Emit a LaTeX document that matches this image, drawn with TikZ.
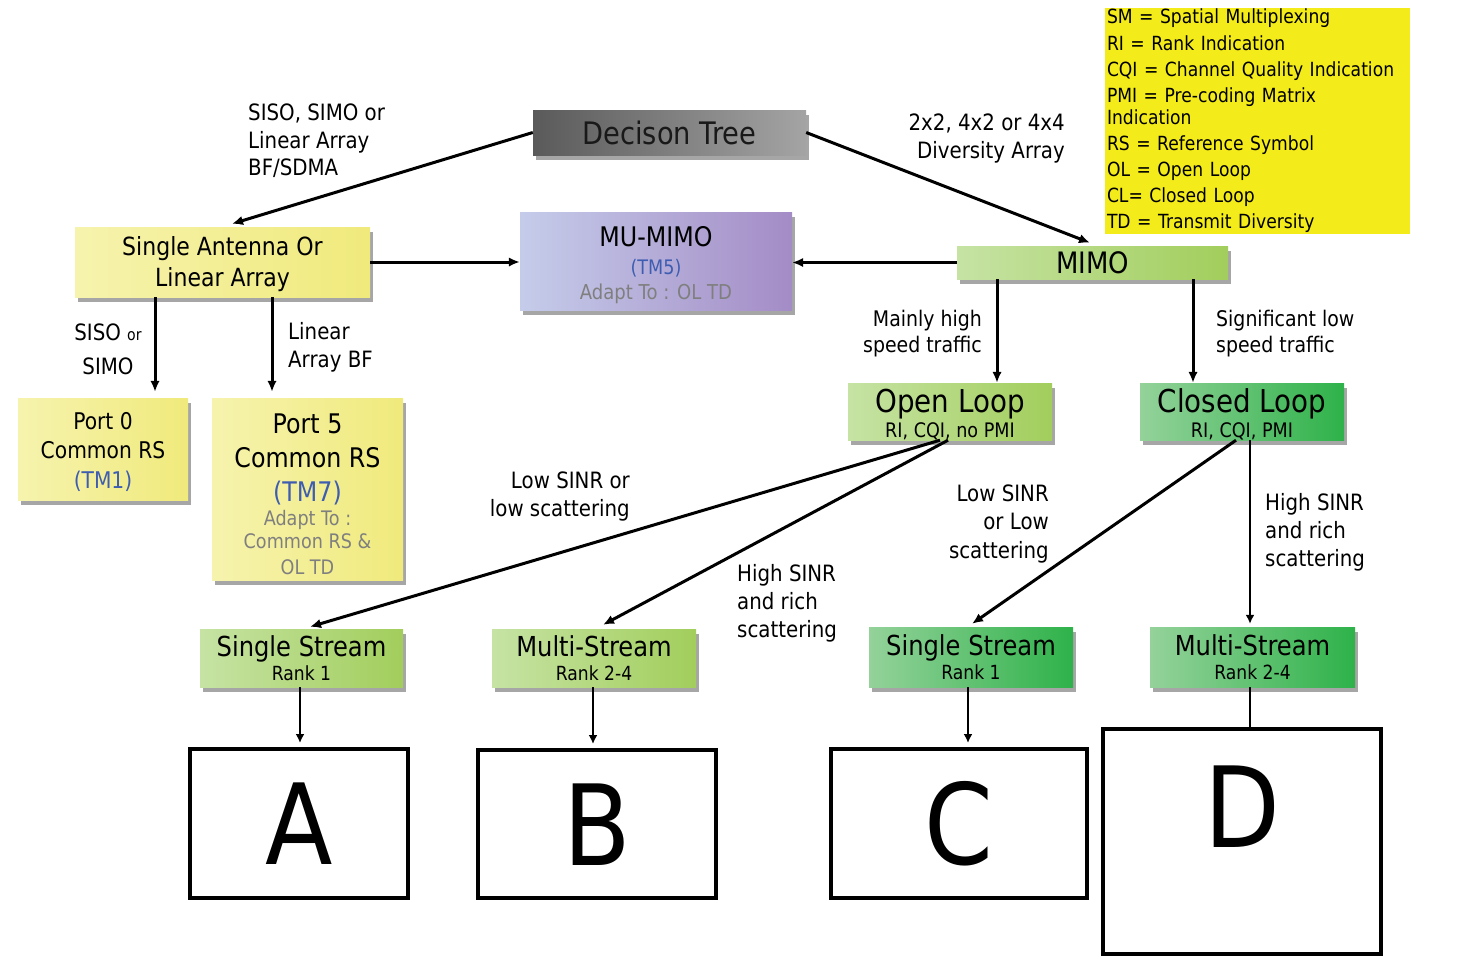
\documentclass[tikz,border=0pt]{standalone}
\usepackage{fontspec}
\setmainfont{DejaVu Sans}[FakeStretch=0.88]
\usetikzlibrary{shadows,arrows.meta}
\newcommand{\fsz}[2]{\fontsize{#1}{#2}\selectfont\lineskiplimit=-100pt\relax}
\definecolor{yelA}{HTML}{F6F3AE}
\definecolor{yelB}{HTML}{F0EA7C}
\definecolor{dtA}{HTML}{5A5A5A}
\definecolor{dtB}{HTML}{A4A4A4}
\definecolor{muA}{HTML}{C5CCEA}
\definecolor{muB}{HTML}{A48CC6}
\definecolor{lgA}{HTML}{C6E3A4}
\definecolor{lgB}{HTML}{A2CE5C}
\definecolor{dgA}{HTML}{94D29A}
\definecolor{dgB}{HTML}{2EB24A}
\definecolor{legY}{HTML}{F4EC1A}
\definecolor{tblue}{HTML}{3E5DB0}
\definecolor{tgray}{HTML}{7F7F7F}
\tikzset{
  shd/.style={drop shadow={shadow xshift=3pt,shadow yshift=-5pt,opacity=0.35,fill=black}},
  bx/.style={shd,inner sep=0pt,align=center,text=black},
  ybx/.style={bx,left color=yelA,right color=yelB},
  lgbx/.style={bx,left color=lgA,right color=lgB},
  dgbx/.style={bx,left color=dgA,right color=dgB},
  arr/.style={line width=3pt,-{Latex[length=11pt,width=9.5pt]}},
  tarr/.style={line width=2.4pt,-{Latex[length=9pt,width=9pt]}},
  lbl/.style={inner sep=0pt,font=\fsz{22.5}{27.5}},
  letterbox/.style={draw,line width=4pt,inner sep=0pt,fill=white,font=\fsz{112}{112},text height=82pt},
}
\begin{document}
\begin{tikzpicture}[x=1pt,y=-1pt]
\useasboundingbox[fill=white] (0,0) rectangle (1476,959);

% main nodes
\node[bx,left color=dtA,right color=dtB,minimum width=273pt,minimum height=45pt,font=\fsz{31}{36},text={black!90}] (dt) at (669.5,132.5) {Decison Tree};
\node[ybx,minimum width=295pt,minimum height=70pt,font=\fsz{25}{31}] (sa) at (222.5,262) {\mbox{}\\[-8pt]Single Antenna Or\\Linear Array};
\node[bx,left color=muA,right color=muB,minimum width=272pt,minimum height=98pt,font=\fsz{27}{28}] (mu) at (656,261)
  {\mbox{}\\[0.7pt]MU-MIMO\\\textcolor{tblue}{\fsz{20}{25}(TM5)}\\[-3pt]\textcolor{tgray}{\fsz{20.5}{25}Adapt To : OL TD}};
\node[lgbx,minimum width=271pt,minimum height=33pt,font=\fsz{29.5}{32}] (mimo) at (1092.5,262.5) {MIMO};

\node[fill=legY,minimum width=305pt,minimum height=226pt,inner xsep=2pt,inner ysep=0pt,text width=301pt,align=left,font=\fsz{19.5}{26.1}] (leg) at (1257.5,121)
  {SM = Spatial Multiplexing\\RI = Rank Indication\\CQI = Channel Quality Indication\\PMI = Pre-coding Matrix\\[-4pt]Indication\\RS = Reference Symbol\\OL = Open Loop\\CL= Closed Loop\\TD = Transmit Diversity};

\node[ybx,minimum width=170pt,minimum height=102pt,font=\fsz{23}{29.5}] (p0) at (103,449) {\mbox{}\\[-7pt]Port 0\\Common RS\\\textcolor{tblue}{(TM1)}};
\node[ybx,minimum width=191pt,minimum height=182pt,font=\fsz{27}{34}] (p5) at (307.5,489)
  {\mbox{}\\[-3.5pt]Port 5\\Common RS\\\textcolor{tblue}{(TM7)}\\[-10pt]\textcolor{tgray}{\fsz{20}{25}Adapt To :}\\[-10.5pt]\textcolor{tgray}{\fsz{20}{25}Common RS \&}\\[-8pt]\textcolor{tgray}{\fsz{20}{25}OL TD}};

\node[lgbx,minimum width=204pt,minimum height=57pt,font=\fsz{31.5}{29}] (ol) at (950,411.5) {\mbox{}\\Open Loop\\[-4pt]\fsz{20}{25}RI, CQI, no PMI};
\node[dgbx,minimum width=204pt,minimum height=57pt,font=\fsz{31.5}{29}] (cl) at (1242,411.5) {\mbox{}\\Closed Loop\\[-4pt]\fsz{20}{25}RI, CQI, PMI};

\node[lgbx,minimum width=203pt,minimum height=58pt,font=\fsz{27.5}{27}] (ss1) at (301.5,658) {Single Stream\\[-3pt]\fsz{19.5}{24}Rank 1};
\node[lgbx,minimum width=204pt,minimum height=58pt,font=\fsz{27.5}{27}] (ms1) at (594,658) {Multi-Stream\\[-3pt]\fsz{19.5}{24}Rank 2-4};
\node[dgbx,minimum width=204pt,minimum height=60pt,font=\fsz{27.5}{27}] (ss2) at (971,657) {Single Stream\\[-3pt]\fsz{19.5}{24}Rank 1};
\node[dgbx,minimum width=205pt,minimum height=60pt,font=\fsz{27.5}{27}] (ms2) at (1252.5,657) {Multi-Stream\\[-3pt]\fsz{19.5}{24}Rank 2-4};

\node[letterbox,minimum width=218pt,minimum height=149pt,text depth=0pt] (A) at (299,823.5) {A};
\node[letterbox,minimum width=238pt,minimum height=148pt,text depth=0pt] (B) at (597,824) {B};
\node[letterbox,minimum width=256pt,minimum height=149pt,text depth=0pt] (C) at (959,823.5) {C};
\node[letterbox,minimum width=278pt,minimum height=225pt,text depth=70pt] (D) at (1242,841.5) {D};

% connectors
\draw[arr] (dt.west) -- ([xshift=9.5pt,yshift=3pt]sa.north);
\draw[arr] (dt.east) -- ([xshift=-2.5pt,yshift=3pt]mimo.north);
\draw[arr] (sa.east) -- (sa.east -| mu.west);
\draw[arr] (mimo.west) -- (mimo.west -| mu.east);
\draw[arr,shorten >=6pt] (sa.south -| 155,0) -- (p0.north -| 155,0);
\draw[arr,shorten >=6pt] (sa.south -| 272,0) -- (p5.north -| 272,0);
\draw[arr] (mimo.south -| 997,0) -- (ol.north -| 997,0);
\draw[arr] (mimo.south -| 1193,0) -- (cl.north -| 1193,0);
\draw[arr] ([xshift=-10pt]ol.south) -- ([xshift=8.5pt,yshift=2pt]ss1.north);
\draw[arr] ([xshift=-2pt]ol.south) -- ([xshift=9pt,yshift=4pt]ms1.north);
\draw[arr] ([xshift=-6pt]cl.south) -- ([xshift=1pt,yshift=3pt]ss2.north);
\draw[tarr,shorten >=3pt] (cl.south -| 1250,0) -- (ms2.north -| 1250,0);
\draw[tarr,shorten >=4pt] (ss1.south -| 300,0) -- (A.north -| 300,0);
\draw[tarr,shorten >=4pt] (ms1.south -| 593,0) -- (B.north -| 593,0);
\draw[tarr,shorten >=4pt] (ss2.south -| 968,0) -- (C.north -| 968,0);
\draw[line width=2.4pt] (ms2.south -| 1250,0) -- (D.north -| 1250,0);

% labels
\node[lbl,anchor=west,align=left] (l1) at (248,141) {SISO, SIMO or\\Linear Array\\BF/SDMA};
\node[lbl,anchor=east,align=right,font=\fsz{22.5}{28}] (l2) at (1065,138.5) {2x2, 4x2 or 4x4\\Diversity Array};
\node[lbl,align=center,font=\fsz{22.5}{34}] (l3) at (108,349) {SISO {\fsz{16}{16}or}\\SIMO};
\node[lbl,anchor=west,align=left,font=\fsz{22.5}{28}] (l4) at (288,347) {Linear\\Array BF};
\node[lbl,anchor=east,align=right,font=\fsz{21.5}{26}] (l5) at (982,333.5) {Mainly high\\speed traffic};
\node[lbl,anchor=west,align=left,font=\fsz{21.5}{26}] (l6) at (1216,333.5) {Significant low\\speed traffic};
\node[lbl,anchor=east,align=right,font=\fsz{22.5}{28}] (l7) at (630,496) {Low SINR or\\low scattering};
\node[lbl,anchor=west,align=left,font=\fsz{22.5}{28}] (l8) at (737,603) {High SINR\\and rich\\scattering};
\node[lbl,anchor=east,align=right,font=\fsz{22.5}{28.5}] (l9) at (1049,523.5) {Low SINR\\or Low\\scattering};
\node[lbl,anchor=west,align=left,font=\fsz{22.5}{28}] (l10) at (1265,532) {High SINR\\and rich\\scattering};
\end{tikzpicture}
\end{document}
